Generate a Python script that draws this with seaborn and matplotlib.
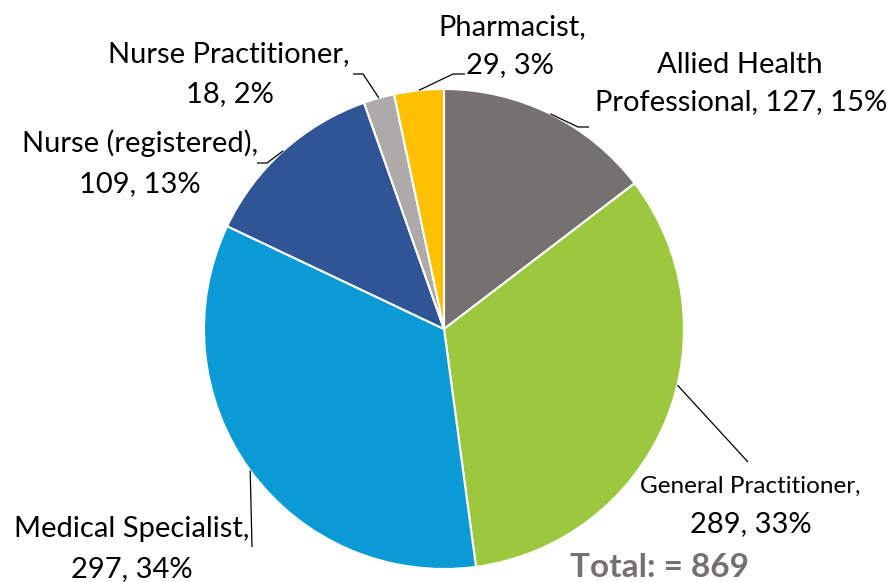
import matplotlib
matplotlib.use('Agg')
import matplotlib.pyplot as plt
import seaborn as sns
import numpy as np

sns.set_theme(style='white')
plt.rcParams['font.family'] = ['Lato', 'DejaVu Sans']

# data
categories = ['Allied Health\nProfessional', 'General Practitioner', 'Medical Specialist',
              'Nurse (registered)', 'Nurse Practitioner', 'Pharmacist']
counts = [127, 289, 297, 109, 18, 29]
colors = ['#767171', '#9BC83E', '#0A9BD7', '#2F5597', '#AEAAAA', '#FFC000']

W, H = 892, 582
cx, cy, R = 444, 329, 240


def px(x, y):
    # pixel position -> data coords (pie radius = 1)
    return (x - cx) / R, (cy - y) / R


fig = plt.figure(figsize=(W / 100, H / 100), dpi=100)
ax = fig.add_axes([0, 0, 1, 1])
wedges, _ = ax.pie(counts, colors=colors, startangle=90, counterclock=False,
                   wedgeprops=dict(edgecolor='white', linewidth=1.5))
ax.set_xlim(-cx / R, (W - cx) / R)
ax.set_ylim((cy - H) / R, cy / R)
ax.set_aspect('auto')
ax.axis('off')

total = sum(counts)
pct = [round(c / total * 100) for c in counts]

# label layout: (line1 centre x, line1 baseline, line2 centre x, line2 baseline, line1 size, line2 size)
label_layout = [
    (740, 73, 741, 110, 21, 21),
    (750, 493, 751, 532, 17.5, 21),
    (132, 537, 132, 577, 21, 21),
    (140, 152, 140, 192, 21, 21),
    (229, 62, 230, 102, 21, 21),
    (512, 35, 510, 73, 21, 21),
]
# leader line: elbow and end points (pixels); angle override for start on the rim
leaders = [
    ((578, 127), (589, 127), None),
    ((748, 462), None, -13.5),
    ((252, 547), None, None),
    ((267, 163), (257, 163), None),
    ((363, 74), (353, 74), None),
    ((453, 74), (465, 74), None),
]

for i, w in enumerate(wedges):
    name = categories[i]
    if '\n' in name:
        first, rest = name.split('\n')
        line1 = first
        line2 = f'{rest}, {counts[i]}, {pct[i]}%'
    else:
        line1 = name + ','
        line2 = f'{counts[i]}, {pct[i]}%'
    x1, y1, x2, y2, s1, s2 = label_layout[i]
    ax.text(*px(x1, y1), line1, ha='center', va='baseline', fontsize=s1, color='black')
    ax.text(*px(x2, y2), line2, ha='center', va='baseline', fontsize=s2, color='black')

    elbow, end, ang = leaders[i]
    if ang is None:
        ang = (w.theta1 + w.theta2) / 2
    a = np.deg2rad(ang)
    pts = [(np.cos(a), np.sin(a)), px(*elbow)]
    if end is not None:
        pts.append(px(*end))
    xs, ys = zip(*pts)
    ax.plot(xs, ys, color='black', lw=0.9, solid_capstyle='butt')

ax.text(*px(659, 577), f'Total: = {total}', ha='center', va='baseline',
        fontsize=24, fontweight='bold', color='#767171')

fig.savefig('out.png', dpi=100)
